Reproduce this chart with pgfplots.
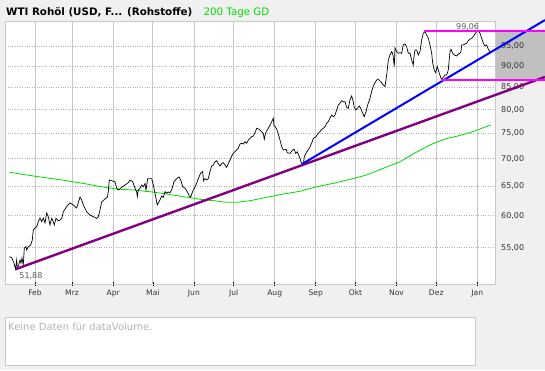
\documentclass[border=0pt]{standalone}
\usepackage{fontspec}
\setmainfont{DejaVu Sans}
\usepackage{pgfplots}
\pgfplotsset{compat=1.18}
\definecolor{bgc}{RGB}{240,240,240}
\definecolor{gridc}{RGB}{200,200,200}
\definecolor{labc}{RGB}{51,51,51}
\definecolor{ma}{RGB}{0,220,0}
\definecolor{trendp}{RGB}{128,0,128}
\definecolor{trendb}{RGB}{0,0,255}
\definecolor{mag}{RGB}{255,0,255}
\definecolor{boxc}{RGB}{192,192,192}
\definecolor{nodata}{RGB}{180,180,180}
\begin{document}
\begin{tikzpicture}[x=1pt,y=1pt]
\fill[bgc] (0,0) rectangle (545,370);
\fill[white] (5.3,86) rectangle (495.7,348.7);
\fill[boxc] (495.7,290.5) rectangle (545,339.2);
\filldraw[fill=white,draw=gridc,line width=0.8pt] (5,4.7) rectangle (475,52.7);
\node[anchor=base west,inner sep=0,text=nodata,font=\fontsize{10}{12}\selectfont] at (8,40) {Keine Daten für dataVolume.};
\node[anchor=base west,inner sep=0,text=black,font=\fontsize{10.3}{12}\selectfont\bfseries] (t) at (6,354.3) {WTI Rohöl (USD, F... (Rohstoffe)};
\node[anchor=base west,inner sep=0,text=ma,font=\fontsize{10.3}{12}\selectfont] at (203.3,354.3) {200 Tage GD};
\begin{axis}[
  at={(5.3pt,86pt)}, anchor=south west, scale only axis,
  width=490.4pt, height=262.7pt,
  xmin=8.57, xmax=378.9, ymode=log, ymin=49.84, ymax=101.67,
  clip=false,
  axis line style={draw=gridc, line width=0.8pt},
  xtick={31,59,90,120,151,181,212,243,273,304,334,365},
  xticklabels={Feb,Mrz,Apr,Mai,Jun,Jul,Aug,Sep,Okt,Nov,Dez,Jan},
  ytick={55,60,65,70,75,80,85,90,95},
  yticklabels={{55,00},{60,00},{65,00},{70,00},{75,00},{80,00},{85,00},{90,00},{95,00}},
  yticklabel pos=right,
  xtick pos=bottom,
  xmajorgrids, ymajorgrids,
  x grid style={gridc, line width=0.8pt},
  y grid style={gray!60, dotted, line width=0.8pt},
  major tick length=4pt, tick align=center,
  x tick style={black, line width=0.6pt},
  y tick style={draw=none},
  xticklabel style={font=\fontsize{7.6}{9}\selectfont, text=labc},
  yticklabel style={font=\fontsize{8}{9}\selectfont, text=labc, anchor=west},
]
\addplot[ma, line width=0.8pt] coordinates {
(11.59,67.49) (29.71,66.82) (54.93,65.97) (70.04,65.38) (80.08,64.94) (92.69,64.49)
(105.22,64.32) (117.83,64.03) (130.44,63.63) (142.98,63.17) (155.59,62.72) (168.20,62.43)
(175.75,62.21) (183.30,62.21) (193.35,62.48) (205.96,63.06) (218.49,63.63) (231.10,64.09)
(243.71,64.90) (256.25,65.49) (268.86,66.21) (281.46,67.00) (294.00,68.22) (306.61,69.46)
(317.94,71.13) (329.27,72.68) (340.60,73.88) (351.92,74.58) (363.25,75.50) (369.29,76.14)
(375.33,76.73)
};
\addplot[black, line width=0.7pt] table {
11.59 53.67
13.40 53.53
15.14 52.76
16.27 51.88
17.18 53.19
17.63 52.05
18.69 52.48
19.67 53.19
20.43 52.76
21.18 53.48
22.16 52.48
22.92 54.96
24.20 55.15
24.73 54.66
25.94 55.15
27.75 55.40
28.96 56.16
29.71 57.71
31.00 58.02
32.28 58.22
33.49 59.02
34.77 59.61
36.06 59.02
37.27 59.61
38.55 58.81
39.83 60.43
41.04 59.82
42.32 58.49
43.61 59.56
44.81 59.02
45.57 58.49
46.85 59.56
48.59 59.17
49.87 59.29
51.16 59.56
52.37 60.64
54.93 61.49
57.43 62.11
59.92 61.76
62.48 61.26
64.98 63.12
66.26 62.60
67.47 61.76
70.04 60.64
72.53 60.10
75.02 59.82
77.59 59.56
78.79 59.82
80.08 60.92
81.36 62.27
83.85 62.77
85.59 63.06
86.35 64.03
87.10 66.09
88.91 65.96
91.40 65.79
92.69 64.63
93.90 64.32
96.46 64.80
98.96 65.20
101.45 65.61
102.73 66.09
104.77 65.79
106.51 64.63
107.79 64.03
108.25 63.17
109.00 64.32
110.28 64.63
111.57 65.20
112.77 64.90
114.06 65.49
114.81 64.32
116.10 66.34
117.83 66.34
119.12 66.34
120.33 65.20
121.61 63.75
123.34 61.76
125.38 62.60
126.67 63.29
127.88 63.06
129.16 64.03
130.44 63.75
131.65 63.98
132.94 63.86
134.22 64.32
135.96 65.79
138.00 66.34
139.73 66.64
141.24 65.96
142.53 64.90
144.27 64.63
146.00 64.03
147.51 63.29
148.57 63.06
149.55 63.75
150.53 64.32
152.57 65.20
154.30 66.34
156.12 67.36
157.63 67.60
158.23 65.95
159.37 66.34
160.65 66.09
161.86 66.34
163.14 67.66
164.42 68.65
165.64 68.84
166.92 69.46
168.20 69.65
169.41 69.12
170.69 68.65
171.98 69.12
173.18 69.27
174.47 68.84
175.75 68.40
176.96 69.12
178.24 69.78
179.53 70.54
180.74 71.05
183.30 71.70
184.51 72.03
185.79 72.88
187.08 73.02
188.29 72.88
189.57 73.34
190.85 73.02
192.06 73.67
193.35 74.01
194.63 74.33
195.84 74.47
197.12 75.14
198.40 76.05
200.37 75.84
202.18 75.35
203.39 75.02
204.14 73.81
205.20 75.14
205.96 75.55
207.17 76.05
208.45 76.73
209.73 77.43
210.94 78.16
211.47 76.60
212.45 76.39
213.50 75.90
214.72 74.88
216.00 73.67
217.28 72.35
218.49 71.70
220.53 71.83
221.52 71.17
223.55 71.05
225.59 71.70
226.80 71.83
227.85 71.05
229.06 71.37
230.12 70.73
231.10 70.10
231.85 69.46
232.99 68.91
233.74 69.08
234.35 70.41
235.63 71.05
236.61 71.51
238.12 72.03
239.94 73.02
241.15 74.01
243.17 74.33
244.92 75.02
246.20 75.35
247.48 75.84
248.69 76.05
249.98 76.39
251.26 77.11
252.47 77.43
253.75 78.16
255.04 78.84
256.25 78.47
257.53 78.84
258.81 79.92
260.02 81.01
261.31 81.39
262.59 81.95
263.80 81.73
265.08 81.73
266.37 80.49
267.57 80.28
268.86 82.12
270.14 83.01
271.35 81.73
272.10 80.49
273.39 79.92
274.37 80.28
275.88 80.79
276.94 80.28
278.45 79.21
279.66 78.50
280.94 79.56
282.22 81.01
283.96 82.50
285.24 84.04
286.45 85.26
287.74 86.07
289.02 86.70
290.23 86.86
292.04 86.30
294.00 85.53
295.28 85.14
296.04 86.70
297.02 89.08
297.78 91.53
299.06 92.78
300.35 93.62
301.10 93.21
301.55 92.28
302.31 89.90
302.84 94.57
304.12 93.62
305.33 93.21
306.61 93.37
307.90 93.21
309.10 95.34
310.39 95.60
311.67 94.90
312.88 93.21
314.16 93.21
315.45 91.53
316.65 90.30
317.18 92.36
317.94 94.05
319.22 94.05
320.43 92.78
321.71 93.62
323.00 96.64
324.21 98.43
325.49 98.86
326.78 97.96
327.99 97.10
329.27 95.34
330.55 93.21
331.31 90.79
332.52 89.08
333.57 88.43
334.78 89.91
336.29 88.29
337.95 86.80
340.60 87.88
341.88 87.88
343.09 89.08
344.37 93.62
345.13 94.23
346.41 93.21
347.62 92.78
349.43 92.53
350.64 93.04
351.92 93.21
352.68 93.62
353.21 95.34
354.42 95.34
355.69 95.60
356.98 95.78
358.19 96.46
359.47 96.83
360.76 97.10
361.96 97.53
363.25 98.25
364.53 98.86
365.74 99.06
367.02 98.43
368.30 97.10
369.51 95.78
370.79 95.07
372.08 95.34
373.29 94.23
374.57 93.62
};
\addplot[trendp, line width=2.4pt] coordinates {(16.27,51.88) (416.1,87.41)};
\addplot[trendb, line width=2pt] coordinates {(232.6,69.0) (416.1,102.0)};
\addplot[mag, line width=2pt] coordinates {(324.7,99.06) (416.1,99.06)};
\addplot[mag, line width=2pt] coordinates {(337.6,86.8) (416.1,86.8)};
\node[anchor=base east, inner sep=0, text=labc!80, font=\fontsize{8}{9}\selectfont, xshift=1pt, yshift=1.5pt] at (axis cs:365.74,99.06) {99,06};
\node[anchor=north west, inner sep=0, text=labc!80, font=\fontsize{8}{9}\selectfont, xshift=3.8pt, yshift=-3.5pt] at (axis cs:16.27,51.88) {51,88};
\end{axis}
\pgfresetboundingbox
\path[use as bounding box] (0,0) rectangle (545,370);
\end{tikzpicture}
\end{document}
